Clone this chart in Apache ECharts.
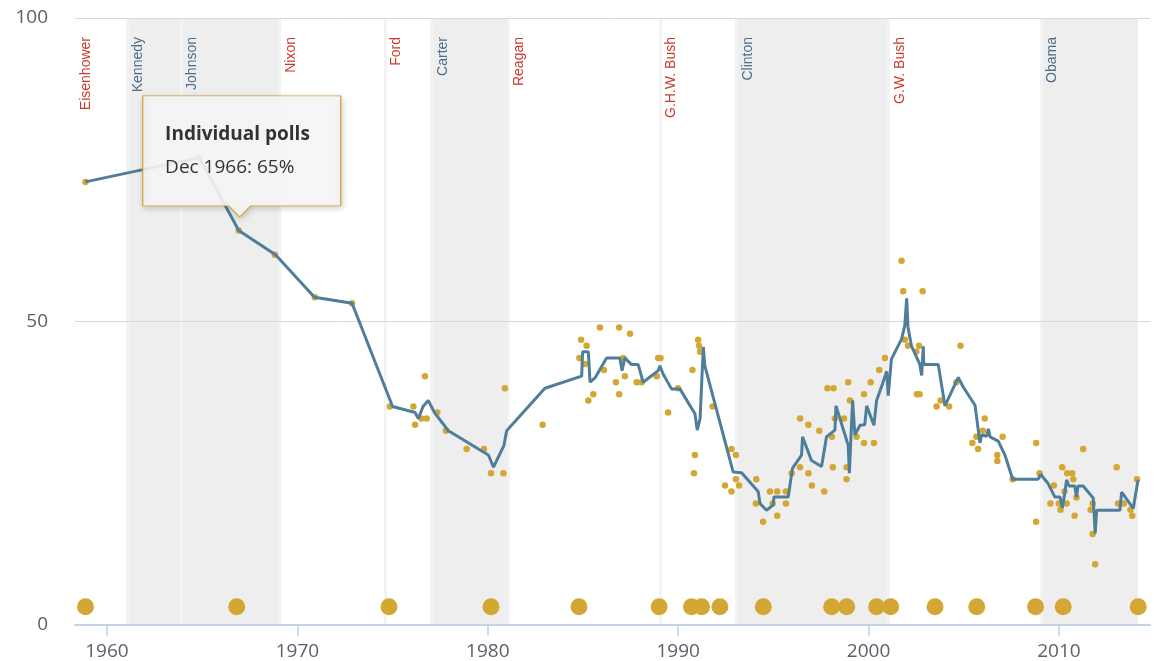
<!DOCTYPE html>
<html>
<head>
<meta charset="utf-8">
<title>Public trust in government 1958-2014</title>
<script src="https://cdn.jsdelivr.net/npm/echarts@6/dist/echarts.min.js"></script>
<style>
  html, body { margin: 0; padding: 0; background: #fff; }
  #chart { width: 1154px; height: 661px; }
</style>
</head>
<body>
<div id="chart"></div>
<script>
// presidents, the date each term began, party
const presidents = ['Eisenhower', 'Kennedy', 'Johnson', 'Nixon', 'Ford', 'Carter', 'Reagan', 'G.H.W. Bush', 'Clinton', 'G.W. Bush', 'Obama']
const termStarts = [1953.05, 1961.05, 1963.89, 1969.05, 1974.6, 1977.05, 1981.05, 1989.05, 1993.05, 2001.05, 2009.05]
const parties = ['R', 'D', 'D', 'R', 'R', 'D', 'R', 'R', 'D', 'R', 'D']
const lastDate = 2014.15

const tickYears = [1960, 1970, 1980, 1990, 2000, 2010]

// moving average
const trendYears = [
  1958.87, 1964.85, 1966.92, 1968.85, 1970.9, 1972.87, 1975.0, 1976.18, 1976.35, 1976.6,
  1976.87, 1977.2, 1977.93, 1980.03, 1980.3, 1980.85, 1980.99, 1983.0, 1984.93, 1984.98,
  1985.28, 1985.37, 1985.63, 1986.24, 1986.94, 1987.05, 1987.2, 1987.55, 1987.9, 1988.16,
  1988.95, 1989.04, 1989.2, 1989.65, 1990.09, 1990.88, 1991.0, 1991.15, 1991.32, 1991.4,
  1992.89, 1993.33, 1994.2, 1994.3, 1994.64, 1994.99, 1995.03, 1995.78, 1996.0, 1996.48,
  1996.53, 1997.0, 1997.53, 1997.79, 1998.23, 1998.29, 1998.93, 1998.99, 1999.16, 1999.28,
  1999.55, 1999.8, 1999.9, 2000.28, 2000.42, 2000.73, 2000.95, 2001.03, 2001.2, 2001.73,
  2001.9, 2002.0, 2002.07, 2002.25, 2002.68, 2002.79, 2002.87, 2002.9, 2003.66, 2004.01,
  2004.71, 2004.97, 2005.59, 2005.85, 2005.94, 2006.2, 2006.29, 2006.38, 2006.81, 2007.16,
  2007.57, 2008.9, 2009.04, 2009.43, 2009.78, 2010.05, 2010.18, 2010.31, 2010.4, 2010.53,
  2010.83, 2010.92, 2011.0, 2011.27, 2011.8, 2011.9, 2011.98, 2013.2, 2013.29, 2013.9,
  2014.15
]
const trendValues = [
  73, 77, 65, 61, 54, 53, 36, 35, 34, 36,
  37, 35, 32, 28, 26, 29.6, 32, 39, 41, 45,
  45, 40, 40.7, 44, 44, 41.9, 44, 42.9, 42.9, 40,
  41.9, 42.7, 41.4, 38.9, 38.9, 34.8, 32.1, 34, 45.8, 42.7,
  25.2, 25.1, 22, 20, 18.9, 19.8, 21.1, 21.1, 25.8, 28,
  31, 27.1, 26.1, 31, 32.1, 36.1, 29.6, 25, 37, 31.3,
  32.9, 33, 36.1, 32.9, 37, 39.7, 41.8, 37.8, 43.8, 47.1,
  49.3, 53.8, 49, 46, 43, 41.1, 45.9, 42.9, 42.9, 36.1,
  40.8, 39.2, 36.2, 30, 31.3, 31.1, 32.3, 31, 30.3, 28,
  24, 24, 24.8, 23.3, 21.1, 21.1, 19.3, 21.9, 23.9, 22.9,
  22.9, 21.1, 22.9, 22.9, 20.9, 15.1, 18.9, 18.9, 21.9, 19.2,
  23.9
]

// individual polls
const pollYears = [
  1958.87, 1964.85, 1966.92, 1968.82, 1970.92, 1972.87, 1974.86,
  1976.09, 1976.18, 1976.52, 1976.79, 1976.7, 1977.35, 1977.8, 1978.89, 1979.8, 1980.17,
  1980.82, 1980.9, 1982.88,
  1984.81, 1984.9, 1985.19, 1985.1, 1985.28, 1985.54, 1985.89, 1986.1, 1986.73, 1986.9,
  1986.9, 1987.11, 1987.2, 1987.47, 1987.82, 1988.08, 1988.87, 1988.95, 1989.07, 1989.47,
  1989.99, 1990.75, 1990.88, 1990.83, 1991.05, 1991.1, 1991.15, 1991.81, 1992.8, 1993.03,
  1992.46, 1992.8, 1993.03, 1993.2,
  1994.1, 1994.08, 1994.46, 1994.82, 1994.96, 1995.2, 1995.2, 1995.66, 1995.66, 1995.96,
  1996.4, 1996.4, 1996.84, 1996.84, 1997.02, 1997.41, 1997.67, 1997.84, 1998.16, 1998.07,
  1998.12, 1998.23, 1998.71, 1998.93, 1999.02, 1998.84, 1998.84, 1999.37, 1999.76, 1999.76,
  2000.11, 2000.28, 2000.56, 2000.86, 2001.73, 2001.82, 2002.84, 2001.9, 2002.07, 2002.65,
  2002.51, 2002.54, 2002.68, 2004.83, 2003.57, 2003.78, 2004.23, 2004.61, 2005.45, 2005.75,
  2005.66, 2006.1, 2006.0, 2006.76, 2006.76, 2007.04, 2007.57, 2008.8, 2008.8, 2008.98,
  2009.55, 2009.73, 2009.99, 2010.08, 2010.17, 2010.29, 2010.4, 2010.43, 2010.69, 2010.75,
  2010.82, 2010.92, 2011.27, 2011.66, 2011.77, 2011.77, 2011.9, 2013.03, 2013.1, 2013.4,
  2013.75, 2013.85, 2014.1
]
const pollValues = [
  73, 77, 65, 61, 54, 53, 36,
  36, 33, 34, 34, 41, 35, 32, 29, 29, 25,
  25, 39, 33,
  44, 47, 46, 43, 37, 38, 49, 42, 40, 49,
  38, 44, 41, 48, 40, 40, 41, 44, 44, 35,
  39, 42, 28, 25, 47, 46, 45, 36, 29, 28,
  23, 22, 24, 23,
  24, 20, 17, 22, 20, 22, 18, 22, 20, 25,
  34, 26, 33, 25, 23, 32, 22, 39, 39, 31,
  26, 34, 34, 40, 37, 26, 24, 31, 30, 38,
  40, 30, 42, 44, 60, 55, 55, 47, 46, 46,
  45, 38, 38, 46, 36, 37, 36, 40, 30, 29,
  31, 34, 32, 28, 27, 31, 24, 30, 17, 25,
  20, 23, 20, 19, 26, 22, 20, 25, 25, 24,
  18, 21, 29, 19, 15, 20, 10, 26, 20, 20,
  19, 18, 24
]
const tipIndex = 2
const tipMonth = 'Dec 1966'

// survey markers along the bottom
const surveyYears = [
  1958.87, 1966.81, 1974.81, 1980.17, 1984.79, 1989.0, 1990.7, 1991.23, 1992.19, 1994.47,
  1998.06, 1998.85, 2000.42, 2001.16, 2003.49, 2005.68, 2008.77, 2010.22, 2014.16
]
const surveyLevel = 3

const X_MIN = 1958.32
const X_MAX = 2014.78
const GOLD = '#d4a634'
const LINE = '#4e7e9a'
const FONT = 'Open Sans'

const chart = echarts.init(document.getElementById('chart'))

const areas = presidents.map((name, i) => {
  const dem = parties[i] === 'D'
  const end = i < presidents.length - 1 ? termStarts[i + 1] : lastDate
  return [
    {
      name,
      xAxis: Math.max(termStarts[i], X_MIN),
      itemStyle: { color: dem ? '#eeeeee' : 'rgba(255,255,255,0)' },
      label: { color: dem ? '#4b6b88' : '#c93a2b' }
    },
    { xAxis: end }
  ]
})

chart.setOption({
  animation: false,
  backgroundColor: '#fff',
  grid: { left: 75, right: 4, top: 18, bottom: 34 },
  xAxis: {
    type: 'value',
    min: X_MIN,
    max: X_MAX,
    z: 1,
    axisLine: { show: true, lineStyle: { color: '#c6d3e2', width: 2 } },
    axisTick: { show: true, length: 11, customValues: tickYears, lineStyle: { color: '#c0d0e0', width: 1.5 } },
    axisLabel: {
      customValues: tickYears,
      formatter: v => String(v),
      margin: 17,
      fontSize: 19,
      fontFamily: FONT,
      color: '#5a5f68'
    },
    splitLine: { show: false }
  },
  yAxis: {
    type: 'value',
    min: 0,
    max: 100,
    interval: 50,
    z: 1,
    axisLine: { show: false },
    axisTick: { show: false },
    axisLabel: { margin: 27, fontSize: 19, fontFamily: FONT, color: '#5a5f68' },
    splitLine: { lineStyle: { color: '#d8d8d8', width: 1 } }
  },
  series: [
    {
      name: 'Presidents',
      type: 'line',
      data: [],
      silent: true,
      markArea: {
        silent: true,
        z: 0,
        label: {
          show: true,
          position: [11.5, 19],
          rotate: 90,
          align: 'right',
          verticalAlign: 'middle',
          fontSize: 14,
          fontFamily: 'Liberation Sans'
        },
        emphasis: { disabled: true },
        data: areas
      },
      markLine: {
        silent: true,
        z: 0.5,
        symbol: ['none', 'none'],
        label: { show: false },
        lineStyle: { color: '#f3f3f3', width: 3, type: 'solid' },
        emphasis: { disabled: true },
        data: termStarts.filter(t => t > X_MIN).map(t => ({ xAxis: t }))
      }
    },
    {
      name: 'Individual polls',
      type: 'scatter',
      z: 2,
      symbolSize: 6.5,
      itemStyle: { color: GOLD, opacity: 1 },
      data: pollYears.map((y, i) => [y, pollValues[i]]),
      markPoint: {
        z: 5,
        silent: true,
        symbol: 'path://M0 0H198V110H108L97 121L86 110H0Z',
        symbolSize: [198, 121],
        symbolKeepAspect: false,
        symbolOffset: [3, -74],
        itemStyle: {
          color: 'rgba(250,250,250,0.88)',
          borderColor: GOLD,
          borderWidth: 1,
          opacity: 1,
          shadowBlur: 6,
          shadowColor: 'rgba(0,0,0,0.2)',
          shadowOffsetX: 1,
          shadowOffsetY: 2
        },
        label: {
          show: true,
          position: [23, 23],
          formatter: () => '{t|Individual polls}\n{v|' + tipMonth + ': ' + pollValues[tipIndex] + '%}',
          rich: {
            t: { fontFamily: FONT, fontWeight: 'bold', fontSize: 19, lineHeight: 33, color: '#333' },
            v: { fontFamily: FONT, fontSize: 19, lineHeight: 33, color: '#333' }
          }
        },
        emphasis: { disabled: true },
        data: [{ coord: [pollYears[tipIndex], pollValues[tipIndex]] }]
      }
    },
    {
      name: 'Surveys',
      type: 'scatter',
      z: 2,
      symbolSize: 17,
      itemStyle: { color: GOLD, opacity: 1 },
      data: surveyYears.map(y => [y, surveyLevel])
    },
    {
      name: 'Moving average',
      type: 'line',
      z: 3,
      showSymbol: false,
      symbol: 'none',
      lineStyle: { color: LINE, width: 3 },
      data: trendYears.map((y, i) => [y, trendValues[i]])
    }
  ]
})
</script>
</body>
</html>
